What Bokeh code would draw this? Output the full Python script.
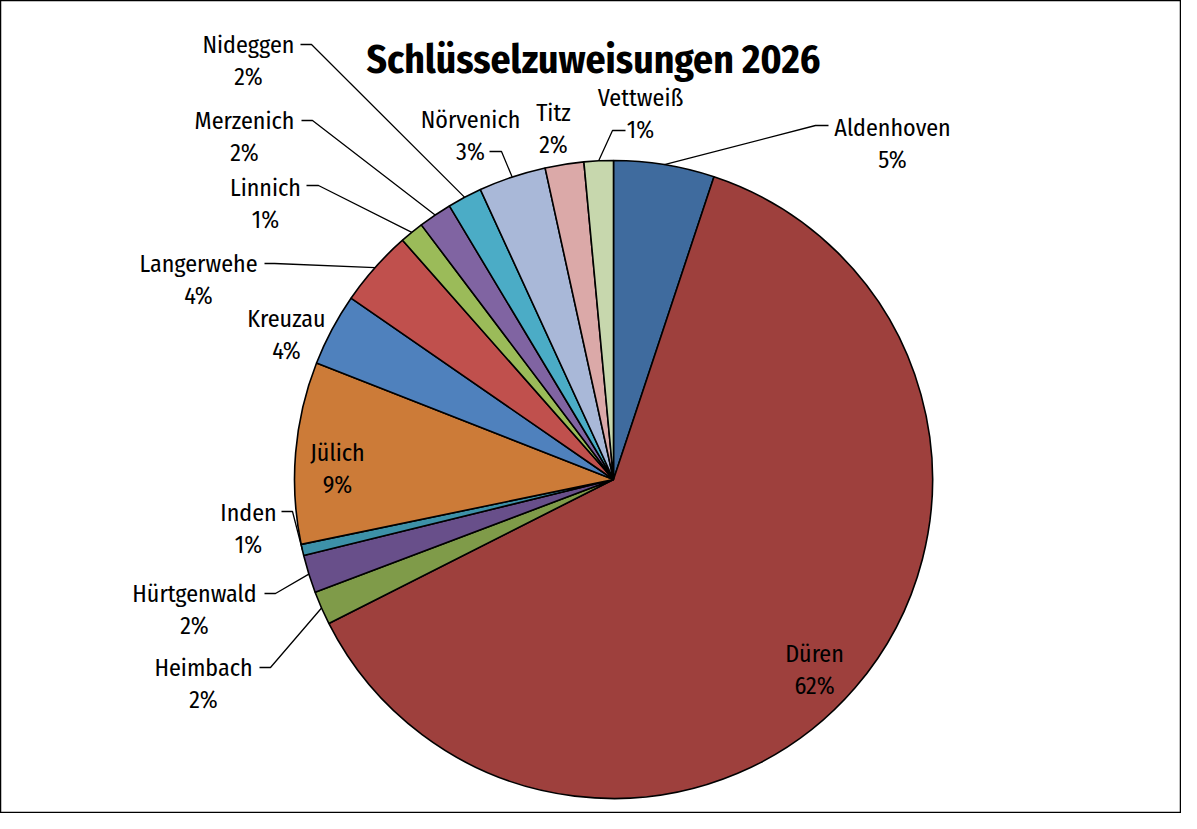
import math
from bokeh.plotting import figure
from bokeh.models import Range1d, ColumnDataSource
from bokeh.core.properties import value
from bokeh.embed import file_html
from bokeh.resources import INLINE

# ---------------- data ----------------
names = ["Aldenhoven", "Düren", "Heimbach", "Hürtgenwald", "Inden", "Jülich",
         "Kreuzau", "Langerwehe", "Linnich", "Merzenich", "Nideggen",
         "Nörvenich", "Titz", "Vettweiß"]
shares = [5.10, 62.45, 1.70, 1.92, 0.57, 9.21, 3.67, 3.88, 1.21, 1.69, 1.75,
          3.41, 1.96, 1.48]
colors = ["#3F6B9E", "#9E403D", "#7F9B49", "#684F8A", "#3D91A8", "#CC7B38",
          "#4F81BD", "#C0504D", "#9BBB59", "#8064A2", "#4BACC6",
          "#A9B8D8", "#DBA9A8", "#C7D7AD"]
title_text = "Schlüsselzuweisungen 2026"

# ---------------- layout ----------------
W, H = 1181, 813
CX, CY, R = 621, 487, 319
FONT = "Fira Sans Condensed, Roboto Condensed, DejaVu Sans Condensed, sans-serif"
LABEL_SIZE = "24px"
LINE_GAP = 32
# name -> (text centre x, first baseline y) in page pixels
label_pos = {
    "Aldenhoven": (900, 135), "Düren": (822, 661), "Heimbach": (211, 675),
    "Hürtgenwald": (202, 601), "Inden": (256, 520), "Jülich": (345, 460),
    "Kreuzau": (294, 326), "Langerwehe": (206, 271), "Linnich": (273, 195),
    "Merzenich": (252, 128), "Nideggen": (256, 52), "Nörvenich": (478, 127),
    "Titz": (561, 120), "Vettweiß": (648, 105),
}
# name -> (start x, elbow x, y) of the leader's horizontal part
leaders = {
    "Aldenhoven": (836, 823, 133), "Heimbach": (267, 278, 675),
    "Hürtgenwald": (272, 283, 601), "Inden": (289, 300, 519),
    "Langerwehe": (272, 282, 271), "Linnich": (314, 326, 193),
    "Merzenich": (309, 320, 128), "Nideggen": (308, 319, 52),
    "Nörvenich": (497, 509, 159), "Vettweiß": (633, 620, 138),
}

def Y(y):
    return -y

total = sum(shares)
starts, ends, mids = [], [], []
cum = 0.0
for s in shares:
    f0 = cum / total
    cum += s
    f1 = cum / total
    starts.append(math.pi / 2 - 2 * math.pi * f0)
    ends.append(math.pi / 2 - 2 * math.pi * f1)
    mids.append(math.pi / 2 - 2 * math.pi * (f0 + f1) / 2)
pct = [f"{round(s / total * 100)}%" for s in shares]

p = figure(width=W, height=H, output_backend="svg", toolbar_location=None,
           x_range=Range1d(8, 8 + W), y_range=Range1d(Y(8 + H), Y(8)),
           min_border=0, match_aspect=False)
p.axis.visible = False
p.grid.visible = False
p.background_fill_color = "white"
p.border_fill_color = "white"
p.outline_line_color = "black"
p.outline_line_width = 1.5

src = ColumnDataSource(dict(start=starts, end=ends, color=colors, name=names))
p.wedge(x=CX, y=Y(CY), radius=R, start_angle="start", end_angle="end",
        direction="clock", fill_color="color", line_color="black",
        line_width=1.6, source=src)

# leader lines
xs, ys = [], []
for i, n in enumerate(names):
    if n in leaders:
        x0, x1, ly = leaders[n]
        rx = CX + R * math.cos(mids[i])
        ry = CY - R * math.sin(mids[i])
        xs.append([x0, x1, rx])
        ys.append([Y(ly), Y(ly), Y(ry)])
p.multi_line(xs=xs, ys=ys, line_color="black", line_width=1.3)

# labels
lx = [label_pos[n][0] for n in names]
ly1 = [Y(label_pos[n][1]) for n in names]
ly2 = [Y(label_pos[n][1] + LINE_GAP) for n in names]
p.text(x=lx, y=ly1, text=names, text_align="center",
       text_baseline="alphabetic", text_font=value(FONT),
       text_font_size=LABEL_SIZE, text_color="black")
p.text(x=lx, y=ly2, text=pct, text_align="center",
       text_baseline="alphabetic", text_font=value(FONT),
       text_font_size=LABEL_SIZE, text_color="black")

# title
p.text(x=[601], y=[Y(67)], text=[title_text], text_align="center",
       text_baseline="alphabetic", text_font=value(FONT),
       text_font_size="39.5px", text_font_style="bold", text_color="black")

open("out.html", "w").write(file_html(p, INLINE))
